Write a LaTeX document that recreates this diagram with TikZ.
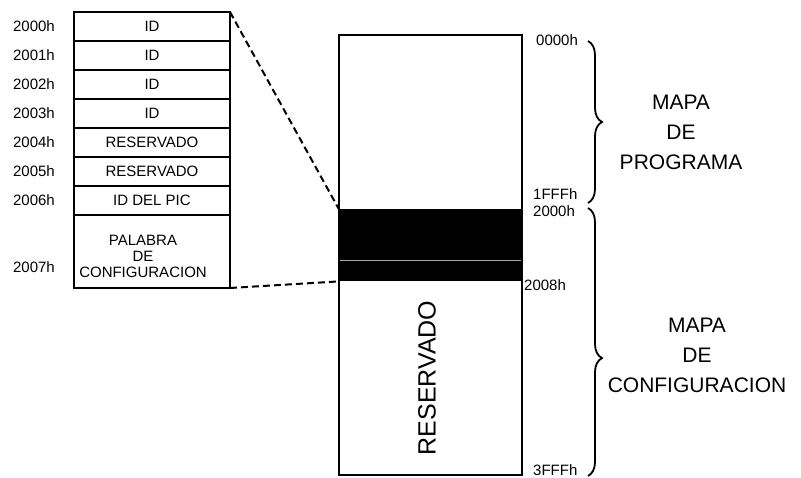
\documentclass[tikz,border=0pt]{standalone}
\usepackage{fontspec}
\setmainfont{Liberation Sans}
\usepackage{tikz}
\usetikzlibrary{positioning, decorations.pathreplacing}

\begin{document}
\begin{tikzpicture}[
    x=1pt, y=-1pt,
    cell/.style={rectangle, draw, line width=1.5pt, minimum width=156pt,
                 minimum height=29pt, inner sep=0pt, outer sep=0pt,
                 align=center, font=\fontsize{15}{16}\selectfont},
    addr/.style={inner sep=0pt, font=\fontsize{15}{16}\selectfont},
    mapa/.style={align=center, font=\fontsize{21}{30}\selectfont},
    link/.style={line width=2pt, dash pattern=on 7pt off 4pt},
    brc/.style={decorate, decoration={brace, amplitude=14pt}, line width=1.8pt},
  ]
  \useasboundingbox (0,0) rectangle (801,478);

  % tabla de la zona 2000h-2007h
  \node[cell] (r0) at (152,26.5) {ID};
  \node[cell, below=0pt of r0] (r1) {ID};
  \node[cell, below=0pt of r1] (r2) {ID};
  \node[cell, below=0pt of r2] (r3) {ID};
  \node[cell, below=0pt of r3] (r4) {RESERVADO};
  \node[cell, below=0pt of r4] (r5) {RESERVADO};
  \node[cell, below=0pt of r5] (r6) {ID DEL PIC};
  \node[cell, below=0pt of r6, minimum height=73pt] (r7) {};
  \node[align=center, font=\fontsize{15}{16}\selectfont] (pal) at (143,256)
    {PALABRA\\DE\\CONFIGURACION};

  \node[addr, left=19pt of r0] (a0) {2000h};
  \node[addr, left=19pt of r1] (a1) {2001h};
  \node[addr, left=19pt of r2] (a2) {2002h};
  \node[addr, left=19pt of r3] (a3) {2003h};
  \node[addr, left=19pt of r4] (a4) {2004h};
  \node[addr, left=19pt of r5] (a5) {2005h};
  \node[addr, left=19pt of r6] (a6) {2006h};
  \node[addr, anchor=east] (a7) at ([xshift=-19pt, yshift=-16pt]r7.west) {2007h};

  % mapa de memoria
  \node[rectangle, minimum width=183pt, minimum height=72pt, inner sep=0pt,
        fill=black, anchor=north] (band) at (430.5,209) {};
  \draw[gray!70, line width=0.8pt] (band.west |- 0,260) -- (band.east |- 0,260);
  \node[rectangle, draw, line width=1.5pt, minimum width=183pt,
        minimum height=440pt, inner sep=0pt] (mem) at (430.5,255) {};
  \node[rotate=90, font=\fontsize{25}{26}\selectfont] (res) at (427,378) {RESERVADO};

  \draw[link] (r0.north east) -- (band.north west);
  \draw[link] (r7.south east) -- (band.south west);

  \node[addr, anchor=west] (m0) at (536,40) {0000h};
  \node[addr, anchor=west] (m1) at (533,194) {1FFFh};
  \node[addr, anchor=west] (m2) at (533,211) {2000h};
  \node[addr, anchor=west] (m3) at (524,285) {2008h};
  \node[addr, anchor=west] (m4) at (533,470) {3FFFh};

  \coordinate (b0) at (588,41);
  \coordinate (b1) at (588,203);
  \coordinate (b2) at (588,208);
  \coordinate (b3) at (588,476);
  \draw[brc] (b0) -- (b1);
  \draw[brc, decoration={aspect=0.56}] (b2) -- (b3);

  \node[mapa] (prog) at (681,132) {MAPA\\DE\\PROGRAMA};
  \node[mapa] (conf) at (697,355) {MAPA\\DE\\CONFIGURACION};
\end{tikzpicture}
\end{document}
